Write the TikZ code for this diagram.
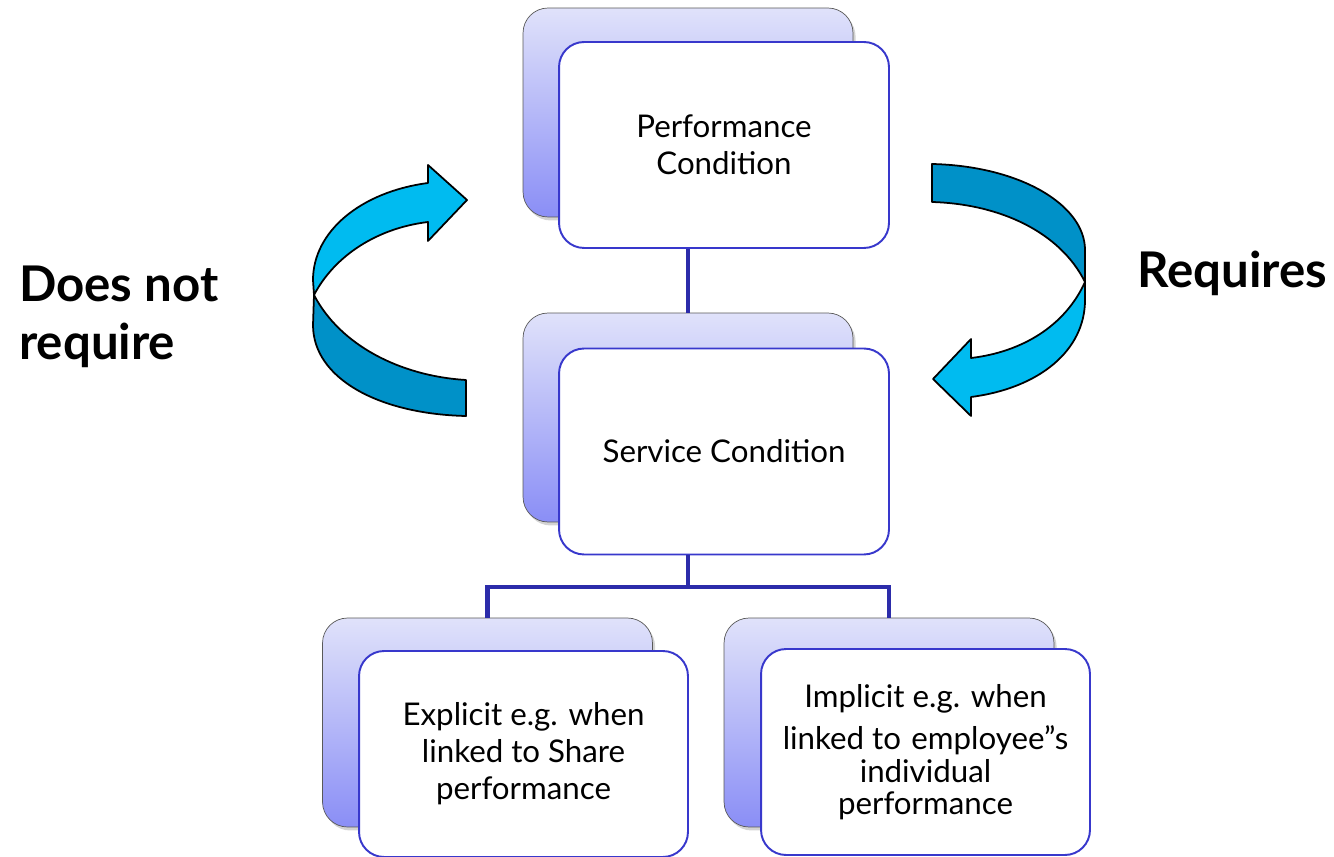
\documentclass[tikz,border=0pt]{standalone}
\usepackage{fontspec}
\setmainfont{Lato}
\usetikzlibrary{shadows}
\definecolor{lavtop}{RGB}{224,226,250}
\definecolor{lavbot}{RGB}{138,142,246}
\definecolor{boxblue}{RGB}{56,56,204}
\definecolor{linkblue}{RGB}{44,44,170}
\definecolor{ribbonlight}{RGB}{0,187,240}
\definecolor{ribbondark}{RGB}{0,145,200}
\begin{document}
\begin{tikzpicture}[x=0.02cm, y=-0.02cm,
  backcard/.style={draw=gray!70!black, rounded corners=0.5cm, top color=lavtop, bottom color=lavbot,
    minimum width=6.6cm, minimum height=4.18cm,
    drop shadow={opacity=0.35, shadow xshift=1.5pt, shadow yshift=-2pt}},
  frontcard/.style={draw=boxblue, line width=1.1pt, fill=white, rounded corners=0.5cm,
    minimum width=6.6cm, minimum height=4.12cm, align=center, font=\fontsize{17.8}{21}\selectfont},
  link/.style={draw=linkblue, line width=2.8pt},
  ribbon/.style={draw=black, line width=1pt, line join=round},
  bigword/.style={font=\bfseries\fontsize{28}{33}\selectfont, align=left}]
  \useasboundingbox (0,0) rectangle (1334,857);
  % ribbons
  \draw[ribbon, fill=ribbonlight] (428,183) .. controls (360,192) and (313,232) .. (313,280) -- (314,295)
    .. controls (335,255) and (378,228) .. (428,222) -- (428,241) -- (467,200) -- (428,165) -- cycle;
  \draw[ribbon, fill=ribbondark] (314,295) .. controls (340,345) and (400,376) .. (466,380) -- (466,416)
    .. controls (378,414) and (313,378) .. (313,325) -- cycle;
  \draw[ribbon, fill=ribbondark] (932,164) .. controls (1020,166) and (1085,205) .. (1085,250) -- (1085,282)
    .. controls (1060,232) and (1000,204) .. (932,202) -- cycle;
  \draw[ribbon, fill=ribbonlight] (1085,282) .. controls (1065,326) and (1022,352) .. (971,358) -- (971,339)
    -- (933,379) -- (971,416) -- (971,397) .. controls (1040,388) and (1085,350) .. (1085,300) -- cycle;
  \node[bigword, anchor=west] (dnr) at (13,317) {Does not\\require};
  \node[bigword, anchor=west] (req) at (1131,273) {Requires};
  % cards
  \node[backcard] (perfB) at (688,112.5) {};
  \node[frontcard] (perfF) at (724,145) {Performance\\Condition};
  \node[backcard] (servB) at (688,417.5) {};
  \node[frontcard] (servF) at (724,451.5) {Service Condition};
  \node[backcard] (explB) at (487.5,722.5) {};
  \node[frontcard, minimum width=6.58cm] (explF) at (523.5,754) {Explicit e.g. when\\linked to Share\\performance};
  \node[backcard] (implB) at (889,722.5) {};
  \node[frontcard, minimum width=6.58cm] (implF) at (925.5,752)
    {Implicit e.g. when\\[3pt] linked to\,\,employee”s\\[-2pt] individual\\[-3pt] performance};
  \coordinate (fork) at (688,587);
  \draw[link] (perfB.south |- perfF.south) -- (servB.north);
  \draw[link] (servB.south |- servF.south) -- (fork);
  \draw[link] (explB.north) |- (fork) -| (implB.north);
\end{tikzpicture}
\end{document}
